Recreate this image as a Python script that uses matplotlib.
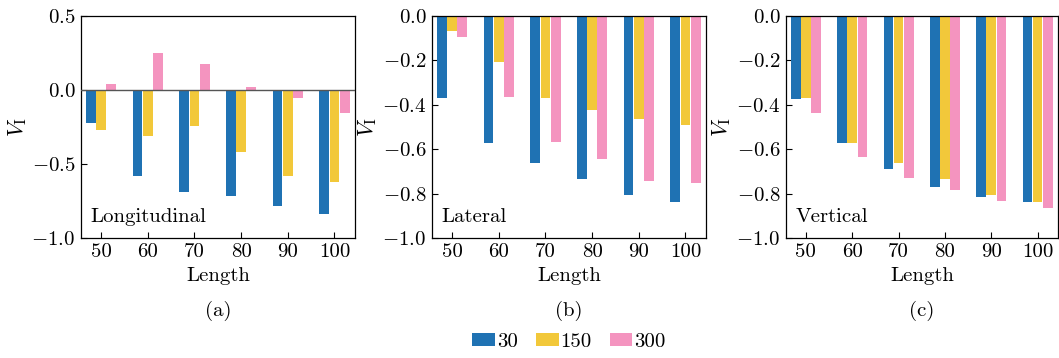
import matplotlib
matplotlib.use("Agg")
import matplotlib.pyplot as plt
import numpy as np

plt.rcParams.update({
    "font.family": "serif",
    "font.serif": ["cmr10", "DejaVu Serif"],
    "mathtext.fontset": "cm",
    "axes.formatter.use_mathtext": True,
    "axes.unicode_minus": True,
    "font.size": 15,
})

# ---------------------------------------------------------------------------
# Data
# ---------------------------------------------------------------------------
lengths = ["50", "60", "70", "80", "90", "100"]
series_names = ["30", "150", "300"]

long_30 = [-0.220, -0.584, -0.692, -0.719, -0.786, -0.840]
long_150 = [-0.267, -0.308, -0.240, -0.422, -0.584, -0.624]
long_300 = [0.040, 0.249, 0.177, 0.020, -0.052, -0.153]

lat_30 = [-0.368, -0.570, -0.660, -0.732, -0.808, -0.840]
lat_150 = [-0.067, -0.207, -0.368, -0.422, -0.463, -0.490]
lat_300 = [-0.094, -0.364, -0.566, -0.642, -0.741, -0.754]

vert_30 = [-0.373, -0.570, -0.687, -0.772, -0.817, -0.840]
vert_150 = [-0.368, -0.570, -0.660, -0.732, -0.808, -0.840]
vert_300 = [-0.436, -0.633, -0.728, -0.786, -0.835, -0.867]

COLORS = ["#1f72b3", "#f2c83a", "#f494bf"]
BAR_W = 0.21
OFFSETS = [-0.22, 0.0, 0.22]

panels = [
    ("Longitudinal", "(a)", [long_30, long_150, long_300], (-1.0, 0.5), [-1.0, -0.5, 0.0, 0.5]),
    ("Lateral", "(b)", [lat_30, lat_150, lat_300], (-1.0, 0.0), [-1.0, -0.8, -0.6, -0.4, -0.2, 0.0]),
    ("Vertical", "(c)", [vert_30, vert_150, vert_300], (-1.0, 0.0), [-1.0, -0.8, -0.6, -0.4, -0.2, 0.0]),
]

# axes boxes in pixels: left, right
AX_PX = [(81, 355), (432, 706), (786, 1058)]
FIG_W, FIG_H = 1059, 358
AX_TOP, AX_BOT = 16, 238

fig = plt.figure(figsize=(FIG_W / 100, FIG_H / 100), dpi=100)

x = np.arange(len(lengths))
handles = None
for (name, tag, series, ylim, yticks), (l, r) in zip(panels, AX_PX):
    ax = fig.add_axes([l / FIG_W, 1 - AX_BOT / FIG_H, (r - l) / FIG_W, (AX_BOT - AX_TOP) / FIG_H])
    bars = []
    for vals, off, col in zip(series, OFFSETS, COLORS):
        bars.append(ax.bar(x + off, vals, BAR_W, color=col, zorder=2))
    handles = bars
    if ylim[1] > 0:
        ax.axhline(0, color="#555555", lw=1.0, zorder=3)
    ax.set_ylim(*ylim)
    ax.set_yticks(yticks)
    ax.set_xlim(-0.43, 5.44)
    ax.set_xticks(x)
    ax.set_xticklabels(lengths)
    ax.tick_params(direction="in", length=4, width=0.8, pad=4)
    ax.set_xlabel("Length", labelpad=4)
    ax.set_ylabel(r"$V_\mathrm{I}$", labelpad=2, fontsize=16)
    for s in ax.spines.values():
        s.set_linewidth(0.9)
    ax.text(0.035, 0.095, name, transform=ax.transAxes, ha="left", va="center")
    fig.text((l + r) / 2 / FIG_W, 1 - 311 / FIG_H, tag, ha="center", va="center")

fig.legend(handles, series_names, loc="center", bbox_to_anchor=(569 / FIG_W, 1 - 342 / FIG_H),
           ncol=3, frameon=False, handlelength=1.1, handleheight=0.55,
           handletextpad=0.1, columnspacing=0.85)

fig.savefig("out.png", dpi=100)
